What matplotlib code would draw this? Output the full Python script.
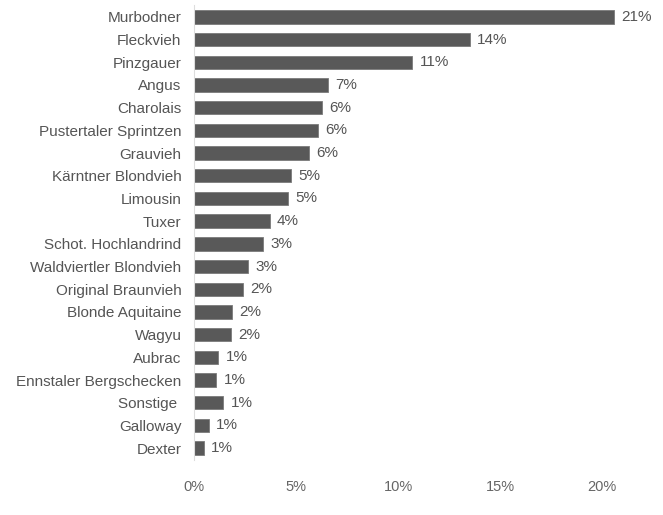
import matplotlib.pyplot as plt
import numpy as np

plt.rcParams['font.family'] = ['Liberation Sans', 'DejaVu Sans']

breeds = ['Murbodner', 'Fleckvieh', 'Pinzgauer', 'Angus', 'Charolais',
          'Pustertaler Sprintzen', 'Grauvieh', 'Kärntner Blondvieh', 'Limousin',
          'Tuxer', 'Schot. Hochlandrind', 'Waldviertler Blondvieh',
          'Original Braunvieh', 'Blonde Aquitaine', 'Wagyu', 'Aubrac',
          'Ennstaler Bergschecken', 'Sonstige ', 'Galloway', 'Dexter']
# share in percent
share = [20.6, 13.5, 10.7, 6.57, 6.27, 6.1, 5.64, 4.74, 4.6, 3.72,
         3.38, 2.65, 2.4, 1.88, 1.81, 1.2, 1.1, 1.44, 0.74, 0.49]
share_labels = ['21%', '14%', '11%', '7%', '6%', '6%', '6%', '5%', '5%', '4%',
                '3%', '3%', '2%', '2%', '2%', '1%', '1%', '1%', '1%', '1%']
xticks = [0, 5, 10, 15, 20]

fig = plt.figure(figsize=(6.63, 5.15), dpi=100)
ax = fig.add_axes([194 / 663, 1 - 459.5 / 515, 449 / 663, 454 / 515])

y = np.arange(len(breeds))
bars = ax.barh(y, share, height=0.59, color='#595959', edgecolor='#7a7a7a', linewidth=0.6)
for bar, lab in zip(bars, share_labels):
    ax.text(bar.get_width() + 0.35, bar.get_y() + bar.get_height() / 2, lab,
            va='center', ha='left', fontsize=11, color='#555555')

ax.set_ylim(len(breeds) - 0.5, -0.5)
ax.set_xlim(0, 22)
ax.set_yticks(y)
ax.set_yticklabels(breeds, fontsize=11, color='#555555')
ax.set_xticks(xticks)
ax.set_xticklabels([f'{t}%' for t in xticks], fontsize=10.5, color='#666666')
ax.tick_params(axis='both', length=0)
ax.tick_params(axis='y', pad=9)
ax.tick_params(axis='x', pad=15)
for side in ['top', 'right', 'bottom']:
    ax.spines[side].set_visible(False)
ax.spines['left'].set_color('#dddddd')

plt.savefig('out.png', dpi=100)
